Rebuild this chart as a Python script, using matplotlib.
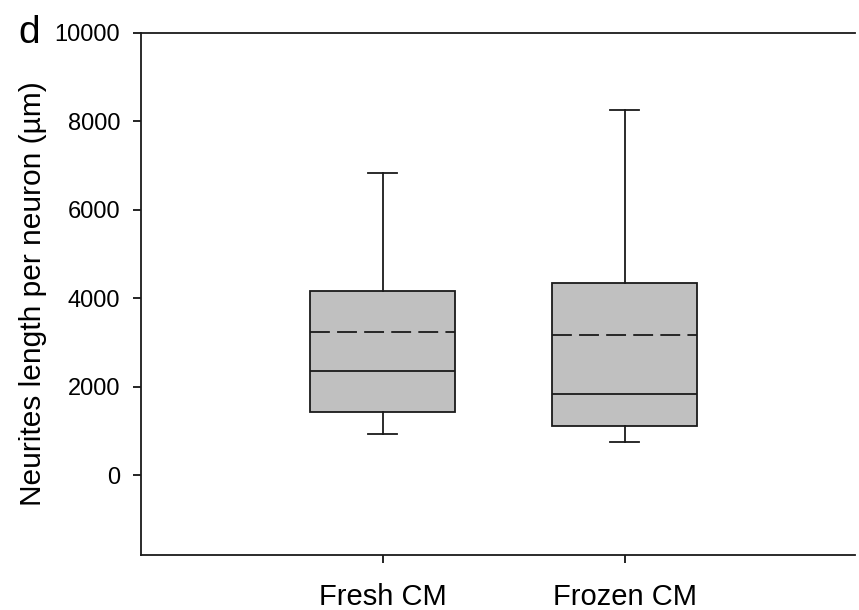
import matplotlib.pyplot as plt

plt.rcParams['font.family'] = ['Liberation Sans', 'DejaVu Sans']

# box statistics
groups = ['Fresh CM', 'Frozen CM']
whislo = [930, 750]
q1 = [1425, 1110]
med = [2350, 1840]
mean = [3235, 3165]
q3 = [4165, 4345]
whishi = [6830, 8260]

stats = []
for i, g in enumerate(groups):
    stats.append({'label': g, 'whislo': whislo[i], 'q1': q1[i], 'med': med[i],
                  'mean': mean[i], 'q3': q3[i], 'whishi': whishi[i], 'fliers': []})

fig = plt.figure(figsize=(8.59, 6.1), dpi=100)
ax = fig.add_axes([0.164, 0.090, 0.831, 0.856])

line = dict(color='#1a1a1a', linewidth=1.3)
ax.bxp(stats, positions=[1, 2], widths=0.6, patch_artist=True,
       showmeans=True, meanline=True,
       boxprops=dict(facecolor='#c0c0c0', edgecolor='#1a1a1a', linewidth=1.3),
       medianprops=line, whiskerprops=line,
       capprops=line, capwidths=0.12,
       meanprops=dict(color='#1a1a1a', linewidth=1.3, linestyle=(0, (11, 4))))

ax.set_xlim(0, 2.95)
ax.set_ylim(-1800, 10000)
ax.set_yticks([0, 2000, 4000, 6000, 8000, 10000])
ax.set_xticks([1, 2])
ax.set_xticklabels(groups, fontsize=21)
ax.tick_params(axis='x', length=6, width=1.2, pad=14)
ax.tick_params(axis='y', length=6, width=1.2, labelsize=17, pad=9)
ax.spines['right'].set_visible(False)
for s in ['left', 'top', 'bottom']:
    ax.spines[s].set_linewidth(1.3)
    ax.spines[s].set_color('#1a1a1a')

ax.set_ylabel('Neurites length per neuron (\u00b5m)', fontsize=21.5, labelpad=5)
fig.text(18 / 859, 1 - 43 / 610, 'd', fontsize=28, va='baseline')

fig.savefig('out.png', dpi=100)
